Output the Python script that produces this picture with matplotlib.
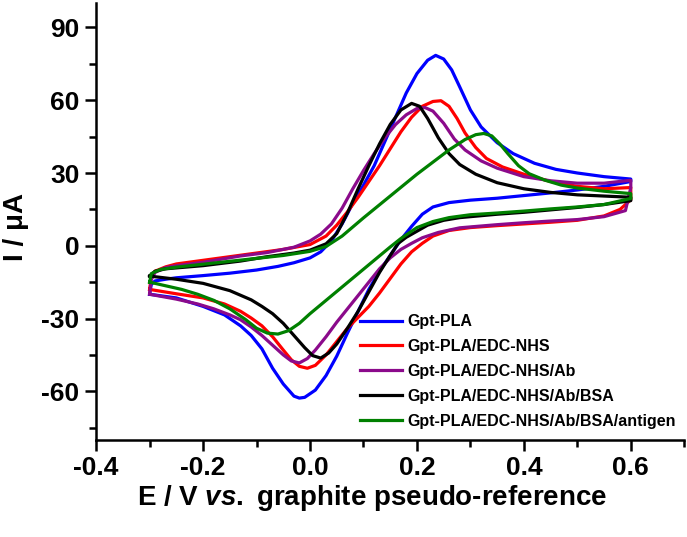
import matplotlib
matplotlib.use("Agg")
import matplotlib.pyplot as plt
from matplotlib.ticker import MultipleLocator, FixedLocator

plt.rcParams.update({
    "font.family": ["Liberation Sans", "DejaVu Sans"],
    "font.weight": "bold",
    "mathtext.fontset": "custom",
    "mathtext.it": "Liberation Sans:italic:bold",
    "mathtext.rm": "Liberation Sans:bold",
})

labels = [
    "Gpt-PLA",
    "Gpt-PLA/EDC-NHS",
    "Gpt-PLA/EDC-NHS/Ab",
    "Gpt-PLA/EDC-NHS/Ab/BSA",
    "Gpt-PLA/EDC-NHS/Ab/BSA/antigen",
]
colors = ["#0000ff", "#ff0000", "#8b0a8b", "#000000", "#008000"]

# Gpt-PLA (forward scan then reverse scan)
pla_E = [-0.300, -0.297, -0.290, -0.27, -0.25, -0.20, -0.15, -0.10, -0.06, -0.03,
         0.00, 0.02, 0.04, 0.06, 0.08, 0.10, 0.12, 0.14, 0.16, 0.18, 0.20, 0.22,
         0.235, 0.25, 0.265, 0.28, 0.30, 0.32, 0.35, 0.38, 0.42, 0.46, 0.50, 0.55, 0.60,
         0.60, 0.55, 0.50, 0.45, 0.40, 0.35, 0.30, 0.26, 0.23, 0.21, 0.19, 0.17, 0.15,
         0.13, 0.11, 0.09, 0.07, 0.05, 0.03, 0.01, -0.01, -0.02, -0.03, -0.05, -0.07,
         -0.09, -0.11, -0.13, -0.16, -0.20, -0.25, -0.30]
pla_I = [-20, -16, -14.5, -13.8, -13.2, -12.3, -11.3, -10, -8.5, -7,
         -5, -2.5, 2, 9, 17.5, 25, 33, 43, 53, 63, 71, 76.5,
         78.5, 77, 72.5, 65.5, 56, 49, 42.5, 38, 34, 31.5, 30, 28.5, 27.5,
         26.5, 24.5, 23, 21.8, 20.7, 19.6, 18.8, 17.8, 16, 13, 8, 2.5, -4,
         -10.5, -18, -27, -36, -45.5, -53.5, -59.5, -62.5, -62.8, -62, -57, -50.5,
         -42.5, -37, -33, -28.5, -25, -21.5, -20]

# Gpt-PLA/EDC-NHS
edc_E = [-0.300, -0.297, -0.29, -0.27, -0.25, -0.20, -0.15, -0.10, -0.05, 0.00,
         0.03, 0.05, 0.07, 0.09, 0.11, 0.13, 0.15, 0.17, 0.19, 0.21, 0.23, 0.245,
         0.26, 0.275, 0.29, 0.31, 0.33, 0.36, 0.40, 0.45, 0.50, 0.55, 0.60,
         0.60, 0.58, 0.55, 0.50, 0.45, 0.40, 0.35, 0.30, 0.26, 0.23, 0.21, 0.19,
         0.17, 0.15, 0.13, 0.11, 0.09, 0.07, 0.05, 0.03, 0.01, -0.005, -0.02,
         -0.035, -0.05, -0.07, -0.09, -0.11, -0.13, -0.16, -0.20, -0.25, -0.30]
edc_I = [-18, -13, -10.5, -8.7, -7.5, -6, -4.5, -3, -1.5, 0.5,
         4, 8.5, 14, 20, 26.5, 33, 40, 47, 53, 57.5, 59.5, 59.8,
         57.5, 52.5, 46.5, 40.5, 36, 32.5, 29.5, 26.5, 24.5, 23.5, 24,
         19, 15, 12.3, 10.5, 9.7, 9, 8.3, 7.5, 6.3, 4, 1, -2.5,
         -7.5, -13.5, -19.5, -25, -29.5, -34, -39.5, -45, -49.3, -50.5, -49.7,
         -47, -43, -37.5, -33, -29.8, -27, -24, -21.5, -19.8, -18]

# Gpt-PLA/EDC-NHS/Ab
ab_E = [-0.300, -0.297, -0.29, -0.27, -0.25, -0.20, -0.13, -0.08, -0.03, 0.00,
        0.02, 0.04, 0.06, 0.08, 0.10, 0.12, 0.14, 0.16, 0.18, 0.20, 0.215, 0.23,
        0.25, 0.27, 0.29, 0.32, 0.35, 0.40, 0.45, 0.50, 0.55, 0.60,
        0.60, 0.59, 0.55, 0.50, 0.45, 0.40, 0.35, 0.28, 0.24, 0.21, 0.19, 0.17,
        0.15, 0.13, 0.11, 0.09, 0.07, 0.05, 0.03, 0.01, -0.005, -0.02, -0.035,
        -0.05, -0.07, -0.09, -0.11, -0.13, -0.15, -0.18, -0.21, -0.25, -0.30]
ab_I = [-19.5, -14, -11, -9, -8.2, -6.8, -4.2, -2.8, -0.6, 2,
        4.8, 9, 15.5, 23.5, 31, 38, 44.5, 50, 54, 56.6, 57, 55.5,
        50.5, 44, 39.5, 35, 32, 28.5, 26.8, 25.8, 25.8, 27,
        24, 14.5, 12, 10.8, 10.2, 9.5, 8.7, 7.4, 5.5, 3.3, 1, -1.5,
        -5, -9.5, -15, -20.5, -26, -31.5, -37.5, -43, -46.5, -48.3, -47.5,
        -45, -41, -37, -33.5, -30.5, -28.5, -26, -24, -22, -20]

# Gpt-PLA/EDC-NHS/Ab/BSA
bsa_E = [-0.300, -0.29, -0.27, -0.20, -0.13, -0.08, -0.03, 0.00, 0.03, 0.05,
         0.07, 0.09, 0.11, 0.13, 0.15, 0.17, 0.19, 0.205, 0.22, 0.24, 0.26, 0.28,
         0.31, 0.35, 0.40, 0.45, 0.50, 0.55, 0.60,
         0.60, 0.55, 0.50, 0.45, 0.40, 0.35, 0.28, 0.25, 0.22, 0.20, 0.18, 0.165,
         0.15, 0.13, 0.11, 0.09, 0.07, 0.05, 0.035, 0.02, 0.005, -0.01, -0.03,
         -0.05, -0.07, -0.09, -0.11, -0.15, -0.20, -0.25, -0.30]
bsa_I = [-12.5, -10.5, -9.5, -8.2, -6.3, -4.5, -3, -1.8, 0.8, 5,
         13.5, 23.5, 33, 42, 50, 56, 58.7, 57.5, 52.5, 44.5, 38, 33.5,
         29.5, 26, 23.5, 22, 21, 20.5, 20,
         18.6, 17, 15.8, 14.8, 13.8, 13, 11.6, 10.5, 8.5, 6, 3.5, 1,
         -4, -11, -19, -27, -34, -40.5, -44.2, -46.3, -45.3, -42, -37,
         -32, -28, -25, -22.3, -18.5, -15.5, -13.8, -12.5]

# Gpt-PLA/EDC-NHS/Ab/BSA/antigen
ag_E = [-0.300, -0.297, -0.28, -0.25, -0.20, -0.15, -0.10, -0.05, 0.00, 0.03,
        0.06, 0.10, 0.15, 0.20, 0.23, 0.26, 0.29, 0.31, 0.325, 0.34, 0.355, 0.37,
        0.39, 0.41, 0.44, 0.47, 0.50, 0.55, 0.60,
        0.60, 0.55, 0.50, 0.45, 0.40, 0.35, 0.30, 0.26, 0.23, 0.20, 0.17, 0.15,
        0.12, 0.09, 0.06, 0.03, 0.00, -0.02, -0.04, -0.06, -0.08, -0.10, -0.12,
        -0.15, -0.18, -0.21, -0.24, -0.27, -0.30]
ag_I = [-15, -11.5, -9.8, -8.8, -7.6, -6.4, -5.2, -4, -2.3, -0.3,
        4, 11.5, 20.5, 29.5, 34.5, 39.5, 43.8, 45.8, 46.3, 45.3, 42, 38,
        33, 29.7, 27, 25, 23.8, 22.5, 21.5,
        19.5, 17, 16, 15.2, 14.3, 13.5, 12.8, 11.6, 10, 7.5, 3, -0.5,
        -6, -11.5, -17, -22.5, -28, -32, -35, -36.4, -36, -34, -30.5,
        -26, -22.5, -20, -18, -16.5, -15]

curves = [(pla_E, pla_I), (edc_E, edc_I), (ab_E, ab_I), (bsa_E, bsa_I), (ag_E, ag_I)]

fig = plt.figure(figsize=(6.87, 5.37), dpi=100)
ax = fig.add_axes([0.140, 0.181, 0.856, 0.813])

for (e, i), c, lab in zip(curves, colors, labels):
    ax.plot(e, i, color=c, lw=2.3, label=lab, solid_joinstyle="round")

ax.set_xlim(-0.4, 0.7)
ax.set_ylim(-80, 100)

for side in ["top", "right"]:
    ax.spines[side].set_visible(False)
for side in ["left", "bottom"]:
    ax.spines[side].set_linewidth(1.8)

ax.xaxis.set_major_locator(FixedLocator([-0.4, -0.2, 0.0, 0.2, 0.4, 0.6]))
ax.xaxis.set_minor_locator(MultipleLocator(0.1))
ax.yaxis.set_major_locator(FixedLocator([-60, -30, 0, 30, 60, 90]))
ax.yaxis.set_minor_locator(MultipleLocator(15))
ax.set_xticklabels(["-0.4", "-0.2", "0.0", "0.2", "0.4", "0.6"])
ax.set_yticklabels(["-60", "-30", "0", "30", "60", "90"])

ax.tick_params(which="major", direction="out", length=8, width=1.8,
               labelsize=19, pad=4)
ax.tick_params(which="minor", direction="out", length=5, width=1.8)

fig.text(0.541, 0.072, r"E / V $\mathit{vs.}$ graphite pseudo-reference",
         ha="center", va="center", fontsize=20, fontweight="bold")
fig.text(0.024, 0.577, "I / μA", rotation=90, ha="center", va="center",
         fontsize=20, fontweight="bold")

ax.legend(loc="upper left", bbox_to_anchor=(0.524, 0.415),
          bbox_transform=fig.transFigure, frameon=False,
          prop=dict(family="Liberation Sans", weight="bold", size=11.5),
          handlelength=2.6, handletextpad=0.35, labelspacing=0.62,
          borderpad=0, borderaxespad=0)

fig.savefig("out.png", dpi=100)
